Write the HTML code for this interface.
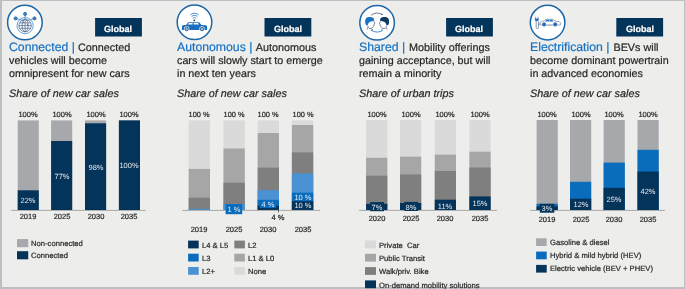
<!DOCTYPE html>
<html><head><meta charset="utf-8"><style>
html,body{margin:0;padding:0;}
body{width:685px;height:289px;background:#bcbfc1;position:relative;overflow:hidden;font-family:"Liberation Sans",sans-serif;}
#bg{position:absolute;left:2px;top:1px;width:682px;height:286px;background:#ededeb;}
.t{position:absolute;white-space:nowrap;will-change:transform;text-rendering:geometricPrecision;-webkit-text-stroke:0.2px currentColor;}
</style></head><body>
<div id="bg"></div>
<svg style="position:absolute;left:0;top:0" width="685" height="289" viewBox="0 0 685 289"><rect x="530.20" y="209.90" width="134.70" height="1" fill="#a8a8a8"/><rect x="359.10" y="209.90" width="137.80" height="1" fill="#a8a8a8"/><rect x="182.10" y="209.90" width="138.00" height="1" fill="#a8a8a8"/><rect x="11.20" y="209.90" width="134.60" height="1" fill="#a8a8a8"/><rect x="95.10" y="18.00" width="46.80" height="18.50" fill="#05345a"/><rect x="17.70" y="120.40" width="21.10" height="89.60" fill="#a6a8ab"/><rect x="17.70" y="190.29" width="21.10" height="19.71" fill="#05345a"/><rect x="51.10" y="120.40" width="21.10" height="89.60" fill="#a6a8ab"/><rect x="51.10" y="141.01" width="21.10" height="68.99" fill="#05345a"/><rect x="85.00" y="120.40" width="21.10" height="89.60" fill="#a6a8ab"/><rect x="85.00" y="123.30" width="21.10" height="86.70" fill="#05345a"/><rect x="118.90" y="120.40" width="21.10" height="89.60" fill="#a6a8ab"/><rect x="118.90" y="120.40" width="21.10" height="89.60" fill="#05345a"/><rect x="17.00" y="239.10" width="11.20" height="8.10" fill="#a6a8ab"/><rect x="17.00" y="251.20" width="11.20" height="8.10" fill="#05345a"/><rect x="264.50" y="18.00" width="46.80" height="18.50" fill="#05345a"/><rect x="188.70" y="120.40" width="21.30" height="89.50" fill="#dadada"/><rect x="188.70" y="168.90" width="21.30" height="41.00" fill="#a6a6a6"/><rect x="188.70" y="197.70" width="21.30" height="12.20" fill="#7f7f7f"/><rect x="188.70" y="208.80" width="21.30" height="1.10" fill="#4a92d2"/><rect x="223.50" y="120.40" width="21.30" height="89.50" fill="#dadada"/><rect x="223.50" y="148.50" width="21.30" height="61.40" fill="#a6a6a6"/><rect x="223.50" y="182.70" width="21.30" height="27.20" fill="#7f7f7f"/><rect x="223.50" y="204.10" width="21.30" height="5.80" fill="#4a92d2"/><rect x="257.70" y="120.40" width="21.30" height="89.50" fill="#dadada"/><rect x="257.70" y="133.00" width="21.30" height="76.90" fill="#a6a6a6"/><rect x="257.70" y="167.60" width="21.30" height="42.30" fill="#7f7f7f"/><rect x="257.70" y="190.10" width="21.30" height="19.80" fill="#4a92d2"/><rect x="257.70" y="199.90" width="21.30" height="10.00" fill="#0a6cbc"/><rect x="257.70" y="205.70" width="21.30" height="4.20" fill="#05345a"/><rect x="291.90" y="120.40" width="21.30" height="89.50" fill="#dadada"/><rect x="291.90" y="125.00" width="21.30" height="84.90" fill="#a6a6a6"/><rect x="291.90" y="152.40" width="21.30" height="57.50" fill="#7f7f7f"/><rect x="291.90" y="173.40" width="21.30" height="36.50" fill="#4a92d2"/><rect x="291.90" y="192.70" width="21.30" height="17.20" fill="#0a6cbc"/><rect x="291.90" y="201.20" width="21.30" height="8.70" fill="#05345a"/><rect x="225.60" y="204.10" width="16.60" height="10.10" fill="#0a6cbc"/><rect x="259.80" y="199.90" width="16.30" height="8.10" fill="#0a6cbc"/><rect x="278.20" y="209.90" width="0.80" height="2.60" fill="#555"/><rect x="188.10" y="240.60" width="10.60" height="7.80" fill="#05345a"/><rect x="188.10" y="253.70" width="10.60" height="7.80" fill="#0a6cbc"/><rect x="188.10" y="267.00" width="10.60" height="7.80" fill="#4a92d2"/><rect x="234.30" y="240.60" width="10.60" height="7.80" fill="#7f7f7f"/><rect x="234.30" y="253.70" width="10.60" height="7.80" fill="#a6a6a6"/><rect x="234.30" y="267.00" width="10.60" height="7.80" fill="#dadada"/><rect x="446.10" y="18.00" width="46.80" height="18.50" fill="#05345a"/><rect x="366.10" y="120.00" width="21.20" height="90.00" fill="#dadada"/><rect x="366.10" y="157.80" width="21.20" height="52.20" fill="#a6a6a6"/><rect x="366.10" y="175.70" width="21.20" height="34.30" fill="#7f7f7f"/><rect x="366.10" y="203.80" width="21.20" height="6.20" fill="#05345a"/><rect x="400.00" y="120.00" width="21.20" height="90.00" fill="#dadada"/><rect x="400.00" y="156.60" width="21.20" height="53.40" fill="#a6a6a6"/><rect x="400.00" y="174.50" width="21.20" height="35.50" fill="#7f7f7f"/><rect x="400.00" y="203.00" width="21.20" height="7.00" fill="#05345a"/><rect x="434.80" y="120.00" width="21.20" height="90.00" fill="#dadada"/><rect x="434.80" y="154.60" width="21.20" height="55.40" fill="#a6a6a6"/><rect x="434.80" y="171.00" width="21.20" height="39.00" fill="#7f7f7f"/><rect x="434.80" y="199.70" width="21.20" height="10.30" fill="#05345a"/><rect x="469.40" y="120.00" width="21.20" height="90.00" fill="#dadada"/><rect x="469.40" y="151.70" width="21.20" height="58.30" fill="#a6a6a6"/><rect x="469.40" y="167.50" width="21.20" height="42.50" fill="#7f7f7f"/><rect x="469.40" y="196.40" width="21.20" height="13.60" fill="#05345a"/><rect x="370.20" y="202.10" width="13.80" height="9.10" fill="#05345a"/><rect x="404.30" y="201.90" width="13.80" height="9.10" fill="#05345a"/><rect x="365.00" y="240.50" width="11.00" height="7.80" fill="#dadada"/><rect x="365.00" y="253.80" width="11.00" height="7.80" fill="#a6a6a6"/><rect x="365.00" y="267.10" width="11.00" height="7.80" fill="#7f7f7f"/><rect x="365.00" y="280.40" width="11.00" height="7.80" fill="#05345a"/><rect x="616.30" y="18.00" width="46.80" height="18.50" fill="#05345a"/><rect x="536.60" y="120.00" width="21.20" height="90.00" fill="#a6a8ab"/><rect x="536.60" y="203.80" width="21.20" height="6.20" fill="#0a6cbc"/><rect x="536.60" y="206.40" width="21.20" height="3.60" fill="#05345a"/><rect x="570.00" y="120.00" width="21.20" height="90.00" fill="#a6a8ab"/><rect x="570.00" y="181.80" width="21.20" height="28.20" fill="#0a6cbc"/><rect x="570.00" y="198.70" width="21.20" height="11.30" fill="#05345a"/><rect x="603.60" y="120.00" width="21.20" height="90.00" fill="#a6a8ab"/><rect x="603.60" y="162.60" width="21.20" height="47.40" fill="#0a6cbc"/><rect x="603.60" y="187.80" width="21.20" height="22.20" fill="#05345a"/><rect x="637.50" y="120.00" width="21.20" height="90.00" fill="#a6a8ab"/><rect x="637.50" y="149.80" width="21.20" height="60.20" fill="#0a6cbc"/><rect x="637.50" y="171.60" width="21.20" height="38.40" fill="#05345a"/><rect x="539.80" y="203.80" width="14.50" height="8.90" fill="#05345a"/><rect x="536.10" y="238.30" width="10.60" height="7.70" fill="#a6a8ab"/><rect x="536.10" y="251.60" width="10.60" height="7.70" fill="#0a6cbc"/><rect x="536.10" y="264.90" width="10.60" height="7.70" fill="#05345a"/></svg>
<div class="t" style="left:8.80px;top:41px;font-size:12.25px;line-height:12.25px;color:#1672c2">Connected |<span style="font-size:10.8px;color:#262626;margin-left:0.2px"> Connected</span></div><div class="t" style="left:8.80px;top:56.00px;font-size:10.75px;line-height:10.75px;color:#262626;">vehicles will become</div><div class="t" style="left:8.80px;top:69.00px;font-size:10.75px;line-height:10.75px;color:#262626;">omnipresent for new cars</div><div class="t" style="left:8.80px;top:89.00px;font-size:10.8px;line-height:10.8px;color:#262626;font-style:italic">Share of new car sales</div><div class="t" style="left:88.45px;top:25.00px;width:60px;text-align:center;font-size:9px;line-height:9px;color:#ffffff;font-weight:bold">Global</div><div class="t" style="left:-1.75px;top:111.00px;width:60px;text-align:center;font-size:7.5px;line-height:7.5px;color:#262626;">100%</div><div class="t" style="left:-1.75px;top:197.00px;width:60px;text-align:center;font-size:7.5px;line-height:7.5px;color:#e6eaef;-webkit-text-stroke:0;">22%</div><div class="t" style="left:-1.75px;top:213.00px;width:60px;text-align:center;font-size:7.5px;line-height:7.5px;color:#262626;">2019</div><div class="t" style="left:31.65px;top:111.00px;width:60px;text-align:center;font-size:7.5px;line-height:7.5px;color:#262626;">100%</div><div class="t" style="left:31.65px;top:173.00px;width:60px;text-align:center;font-size:7.5px;line-height:7.5px;color:#e6eaef;-webkit-text-stroke:0;">77%</div><div class="t" style="left:31.65px;top:213.00px;width:60px;text-align:center;font-size:7.5px;line-height:7.5px;color:#262626;">2025</div><div class="t" style="left:65.55px;top:111.00px;width:60px;text-align:center;font-size:7.5px;line-height:7.5px;color:#262626;">100%</div><div class="t" style="left:65.55px;top:164.00px;width:60px;text-align:center;font-size:7.5px;line-height:7.5px;color:#e6eaef;-webkit-text-stroke:0;">98%</div><div class="t" style="left:65.55px;top:213.00px;width:60px;text-align:center;font-size:7.5px;line-height:7.5px;color:#262626;">2030</div><div class="t" style="left:99.45px;top:111.00px;width:60px;text-align:center;font-size:7.5px;line-height:7.5px;color:#262626;">100%</div><div class="t" style="left:99.45px;top:162.00px;width:60px;text-align:center;font-size:7.5px;line-height:7.5px;color:#e6eaef;-webkit-text-stroke:0;">100%</div><div class="t" style="left:99.45px;top:213.00px;width:60px;text-align:center;font-size:7.5px;line-height:7.5px;color:#262626;">2035</div><div class="t" style="left:30.60px;top:240.00px;font-size:7.65px;line-height:7.65px;color:#262626;">Non-connected</div><div class="t" style="left:30.60px;top:252.00px;font-size:7.65px;line-height:7.65px;color:#262626;">Connected</div><div class="t" style="left:177.30px;top:41px;font-size:12.25px;line-height:12.25px;color:#1672c2">Autonomous |<span style="font-size:10.8px;color:#262626;margin-left:1.0px"> Autonomous</span></div><div class="t" style="left:177.30px;top:56.00px;font-size:10.75px;line-height:10.75px;color:#262626;">cars will slowly start to emerge</div><div class="t" style="left:177.30px;top:69.00px;font-size:10.75px;line-height:10.75px;color:#262626;">in next ten years</div><div class="t" style="left:177.30px;top:89.00px;font-size:10.8px;line-height:10.8px;color:#262626;font-style:italic">Share of new car sales</div><div class="t" style="left:257.85px;top:25.00px;width:60px;text-align:center;font-size:9px;line-height:9px;color:#ffffff;font-weight:bold">Global</div><div class="t" style="left:169.35px;top:111.00px;width:60px;text-align:center;font-size:7.4px;line-height:7.4px;color:#262626;">100 %</div><div class="t" style="left:169.35px;top:226.00px;width:60px;text-align:center;font-size:7.5px;line-height:7.5px;color:#262626;">2019</div><div class="t" style="left:204.15px;top:111.00px;width:60px;text-align:center;font-size:7.4px;line-height:7.4px;color:#262626;">100 %</div><div class="t" style="left:204.15px;top:226.00px;width:60px;text-align:center;font-size:7.5px;line-height:7.5px;color:#262626;">2025</div><div class="t" style="left:238.35px;top:111.00px;width:60px;text-align:center;font-size:7.4px;line-height:7.4px;color:#262626;">100 %</div><div class="t" style="left:238.35px;top:226.00px;width:60px;text-align:center;font-size:7.5px;line-height:7.5px;color:#262626;">2030</div><div class="t" style="left:272.55px;top:111.00px;width:60px;text-align:center;font-size:7.4px;line-height:7.4px;color:#262626;">100 %</div><div class="t" style="left:272.55px;top:226.00px;width:60px;text-align:center;font-size:7.5px;line-height:7.5px;color:#262626;">2035</div><div class="t" style="left:203.60px;top:206.00px;width:60px;text-align:center;font-size:7.5px;line-height:7.5px;color:#e6eaef;-webkit-text-stroke:0;">1 %</div><div class="t" style="left:238.00px;top:201.00px;width:60px;text-align:center;font-size:7.5px;line-height:7.5px;color:#e6eaef;-webkit-text-stroke:0;">4 %</div><div class="t" style="left:248.30px;top:214.00px;width:60px;text-align:center;font-size:7.5px;line-height:7.5px;color:#262626;">4 %</div><div class="t" style="left:272.55px;top:194.00px;width:60px;text-align:center;font-size:7.5px;line-height:7.5px;color:#e6eaef;-webkit-text-stroke:0;">10 %</div><div class="t" style="left:272.55px;top:202.00px;width:60px;text-align:center;font-size:7.5px;line-height:7.5px;color:#e6eaef;-webkit-text-stroke:0;">10 %</div><div class="t" style="left:201.90px;top:242.00px;font-size:7.65px;line-height:7.65px;color:#262626;">L4 &amp; L5</div><div class="t" style="left:201.90px;top:255.00px;font-size:7.65px;line-height:7.65px;color:#262626;">L3</div><div class="t" style="left:201.90px;top:268.00px;font-size:7.65px;line-height:7.65px;color:#262626;">L2+</div><div class="t" style="left:248.10px;top:242.00px;font-size:7.65px;line-height:7.65px;color:#262626;">L2</div><div class="t" style="left:248.10px;top:255.00px;font-size:7.65px;line-height:7.65px;color:#262626;">L1 &amp; L0</div><div class="t" style="left:248.10px;top:268.00px;font-size:7.65px;line-height:7.65px;color:#262626;">None</div><div class="t" style="left:359.40px;top:41px;font-size:12.25px;line-height:12.25px;color:#1672c2">Shared |<span style="font-size:10.8px;color:#262626;margin-left:1.0px"> Mobility offerings</span></div><div class="t" style="left:359.40px;top:56.00px;font-size:10.75px;line-height:10.75px;color:#262626;">gaining acceptance, but will</div><div class="t" style="left:359.40px;top:69.00px;font-size:10.75px;line-height:10.75px;color:#262626;">remain a minority</div><div class="t" style="left:359.40px;top:89.00px;font-size:10.8px;line-height:10.8px;color:#262626;font-style:italic">Share of urban trips</div><div class="t" style="left:439.45px;top:25.00px;width:60px;text-align:center;font-size:9px;line-height:9px;color:#ffffff;font-weight:bold">Global</div><div class="t" style="left:346.70px;top:111.00px;width:60px;text-align:center;font-size:7.5px;line-height:7.5px;color:#262626;">100%</div><div class="t" style="left:346.70px;top:215.00px;width:60px;text-align:center;font-size:7.5px;line-height:7.5px;color:#262626;">2020</div><div class="t" style="left:380.60px;top:111.00px;width:60px;text-align:center;font-size:7.5px;line-height:7.5px;color:#262626;">100%</div><div class="t" style="left:380.60px;top:215.00px;width:60px;text-align:center;font-size:7.5px;line-height:7.5px;color:#262626;">2025</div><div class="t" style="left:415.40px;top:111.00px;width:60px;text-align:center;font-size:7.5px;line-height:7.5px;color:#262626;">100%</div><div class="t" style="left:415.40px;top:215.00px;width:60px;text-align:center;font-size:7.5px;line-height:7.5px;color:#262626;">2030</div><div class="t" style="left:450.00px;top:111.00px;width:60px;text-align:center;font-size:7.5px;line-height:7.5px;color:#262626;">100%</div><div class="t" style="left:450.00px;top:215.00px;width:60px;text-align:center;font-size:7.5px;line-height:7.5px;color:#262626;">2035</div><div class="t" style="left:347.10px;top:204.00px;width:60px;text-align:center;font-size:7.5px;line-height:7.5px;color:#e6eaef;-webkit-text-stroke:0;">7%</div><div class="t" style="left:381.20px;top:204.00px;width:60px;text-align:center;font-size:7.5px;line-height:7.5px;color:#e6eaef;-webkit-text-stroke:0;">8%</div><div class="t" style="left:415.40px;top:203.00px;width:60px;text-align:center;font-size:7.5px;line-height:7.5px;color:#e6eaef;-webkit-text-stroke:0;">11%</div><div class="t" style="left:450.00px;top:200.00px;width:60px;text-align:center;font-size:7.5px;line-height:7.5px;color:#e6eaef;-webkit-text-stroke:0;">15%</div><div class="t" style="left:379.20px;top:242.00px;font-size:7.65px;line-height:7.65px;color:#262626;">Private&nbsp; Car</div><div class="t" style="left:379.20px;top:255.00px;font-size:7.65px;line-height:7.65px;color:#262626;">Public Transit</div><div class="t" style="left:379.20px;top:268.00px;font-size:7.65px;line-height:7.65px;color:#262626;">Walk/priv. Bike</div><div class="t" style="left:379.20px;top:282.00px;font-size:7.65px;line-height:7.65px;color:#262626;">On-demand mobility solutions</div><div class="t" style="left:529.90px;top:41px;font-size:12.25px;line-height:12.25px;color:#1672c2">Electrification |<span style="font-size:10.8px;color:#262626;margin-left:1.0px"> BEVs will</span></div><div class="t" style="left:529.90px;top:56.00px;font-size:10.75px;line-height:10.75px;color:#262626;">become dominant powertrain</div><div class="t" style="left:529.90px;top:69.00px;font-size:10.75px;line-height:10.75px;color:#262626;">in advanced economies</div><div class="t" style="left:529.90px;top:89.00px;font-size:10.8px;line-height:10.8px;color:#262626;font-style:italic">Share of new car sales</div><div class="t" style="left:609.65px;top:25.00px;width:60px;text-align:center;font-size:9px;line-height:9px;color:#ffffff;font-weight:bold">Global</div><div class="t" style="left:517.20px;top:111.00px;width:60px;text-align:center;font-size:7.5px;line-height:7.5px;color:#262626;">100%</div><div class="t" style="left:517.20px;top:216.00px;width:60px;text-align:center;font-size:7.5px;line-height:7.5px;color:#262626;">2019</div><div class="t" style="left:550.60px;top:111.00px;width:60px;text-align:center;font-size:7.5px;line-height:7.5px;color:#262626;">100%</div><div class="t" style="left:550.60px;top:216.00px;width:60px;text-align:center;font-size:7.5px;line-height:7.5px;color:#262626;">2025</div><div class="t" style="left:550.60px;top:201.00px;width:60px;text-align:center;font-size:7.5px;line-height:7.5px;color:#e6eaef;-webkit-text-stroke:0;">12%</div><div class="t" style="left:584.20px;top:111.00px;width:60px;text-align:center;font-size:7.5px;line-height:7.5px;color:#262626;">100%</div><div class="t" style="left:584.20px;top:216.00px;width:60px;text-align:center;font-size:7.5px;line-height:7.5px;color:#262626;">2030</div><div class="t" style="left:584.20px;top:196.00px;width:60px;text-align:center;font-size:7.5px;line-height:7.5px;color:#e6eaef;-webkit-text-stroke:0;">25%</div><div class="t" style="left:618.10px;top:111.00px;width:60px;text-align:center;font-size:7.5px;line-height:7.5px;color:#262626;">100%</div><div class="t" style="left:618.10px;top:216.00px;width:60px;text-align:center;font-size:7.5px;line-height:7.5px;color:#262626;">2035</div><div class="t" style="left:618.10px;top:188.00px;width:60px;text-align:center;font-size:7.5px;line-height:7.5px;color:#e6eaef;-webkit-text-stroke:0;">42%</div><div class="t" style="left:517.10px;top:205.00px;width:60px;text-align:center;font-size:7.5px;line-height:7.5px;color:#e6eaef;-webkit-text-stroke:0;">3%</div><div class="t" style="left:549.80px;top:239.00px;font-size:7.65px;line-height:7.65px;color:#262626;">Gasoline &amp; diesel</div><div class="t" style="left:549.80px;top:252.00px;font-size:7.65px;line-height:7.65px;color:#262626;">Hybrid &amp; mild hybrid (HEV)</div><div class="t" style="left:549.80px;top:265.00px;font-size:7.65px;line-height:7.65px;color:#262626;">Electric vehicle (BEV + PHEV)</div>
<svg style="position:absolute;left:0;top:0" width="685" height="289" viewBox="0 0 685 289">
<g fill="#fff" stroke="#1b66a8" stroke-width="1.5">
<circle cx="24.9" cy="22.5" r="17.3"/>
<circle cx="194.5" cy="22.3" r="17.3"/>
<circle cx="377.1" cy="22.7" r="17.3"/>
<circle cx="547.6" cy="22.6" r="17.3"/>
</g>
<!-- icon 1: globe network -->
<g transform="translate(24.9,22.5)">
<g stroke="#3d6a98" stroke-width="0.7" fill="none">
<line x1="-9.3" y1="-4.1" x2="-1.2" y2="-1.9"/>
<line x1="9.6" y1="-4.1" x2="2.0" y2="-1.9"/>
<line x1="0.2" y1="-8.6" x2="0.2" y2="-3.4"/>
</g>
<circle cx="0.2" cy="3.1" r="8.1" fill="none" stroke="#5aa0dc" stroke-width="1.0"/>
<g fill="none" stroke="#43628a" stroke-width="0.7">
<circle cx="0.2" cy="3.1" r="6.2"/>
<ellipse cx="0.2" cy="3.1" rx="3.0" ry="6.2"/>
<line x1="0.2" y1="-3.1" x2="0.2" y2="9.3"/>
<line x1="-6.0" y1="3.1" x2="6.4" y2="3.1"/>
<line x1="-5.3" y1="0.4" x2="5.7" y2="0.4"/>
<line x1="-5.3" y1="5.8" x2="5.7" y2="5.8"/>
</g>
<circle cx="-1.6" cy="-0.2" r="0.7" fill="#3a85cc"/>
<circle cx="2.6" cy="2.2" r="0.7" fill="#3a85cc"/>
<g fill="#3a85cc" stroke="#2a5f96" stroke-width="0.7">
<circle cx="0.2" cy="-8.6" r="1.6"/>
<circle cx="-9.3" cy="-4.1" r="1.6"/>
<circle cx="9.6" cy="-4.1" r="1.6"/>
</g>
</g>
<!-- icon 2: connected car -->
<g transform="translate(194.5,22.3)">
<g fill="none" stroke="#2f7fcb" stroke-width="0.9" stroke-linecap="round">
<path d="M-1.3,-4.3 A1.8,1.8 0 0 1 1.3,-4.3"/>
<path d="M-2.6,-6.0 A3.6,3.6 0 0 1 2.6,-6.0"/>
<path d="M-3.9,-7.6 A5.5,5.5 0 0 1 3.9,-7.6"/>
</g>
<circle cx="-0.2" cy="-1.9" r="0.9" fill="#1d3d5e"/>
<path fill="#1a6dbd" d="M-12.6,4.2 C-12.6,3.2 -11.6,2.8 -10.5,2.7 L-8.4,2.6 L-6.3,-0.1 L4.6,-0.1 L7.0,2.6 L11.3,3.0 C12.3,3.2 12.6,4.0 12.6,5.0 L12.6,7.6 L-12.6,7.6 Z"/>
<g fill="#fff">
<path d="M-5.7,0.7 L-2.0,0.7 L-2.0,2.3 L-6.8,2.3 Z"/>
<path d="M-0.9,0.7 L3.4,0.7 L4.6,2.3 L-0.9,2.3 Z"/>
<circle cx="-7.9" cy="6.7" r="2.7"/>
<circle cx="7.5" cy="6.7" r="2.7"/>
</g>
<g fill="#8fb6dc" stroke="#1a4f88" stroke-width="0.8">
<circle cx="-7.9" cy="6.7" r="1.8"/>
<circle cx="7.5" cy="6.7" r="1.8"/>
</g>
</g>
<!-- icon 3: shared heads -->
<g transform="translate(377.1,22.7)">
<path d="M-6,-7.4 Q-0.8,-11.6 5.3,-8.1" fill="none" stroke="#41597a" stroke-width="0.8"/>
<path d="M5.9,-7.6 L4.0,-8.0 L5.0,-9.3 Z" fill="#41597a"/>
<path d="M-6,7.4 Q0,11.4 5.8,7.4" fill="none" stroke="#2d83cf" stroke-width="0.9"/>
<path d="M-6.6,7.0 L-4.6,7.0 L-5.6,8.6 Z" fill="#2d83cf"/>
<g><path fill="none" stroke="#46617f" stroke-width="0.75" d="M-3.3,-2.2 C-3.3,-1.5 -3.2,-1.0 -3.1,-0.7 L-2.2,0.6 L-2.9,1.3 L-3.0,2.3 C-3.3,3.3 -3.7,4.0 -4.3,4.6 C-5.0,5.3 -5.9,5.8 -6.9,5.9 C-7.8,5.9 -8.6,5.4 -9.0,4.6 L-9.3,3.0 M-9.5,5.0 L-9.9,6.8 M-5.4,6.2 L-4.2,7.0"/><path fill="#1a72c4" d="M-11.9,0.1 C-12.3,-2.6 -11.6,-4.7 -9.5,-5.5 C-7.4,-6.1 -4.7,-5.7 -3.5,-4.4 C-2.9,-3.7 -2.9,-2.8 -3.2,-2.0 C-4.6,-1.6 -6.2,-1.2 -7.4,-0.6 C-8.4,0.0 -9.0,1.0 -9.4,2.6 L-11.0,2.6 C-11.4,1.8 -11.7,0.9 -11.9,0.1 Z"/></g>
<g transform="scale(-1,1)"><path fill="none" stroke="#46617f" stroke-width="0.75" d="M-3.3,-2.2 C-3.3,-1.5 -3.2,-1.0 -3.1,-0.7 L-2.2,0.6 L-2.9,1.3 L-3.0,2.3 C-3.3,3.3 -3.7,4.0 -4.3,4.6 C-5.0,5.3 -5.9,5.8 -6.9,5.9 C-7.8,5.9 -8.6,5.4 -9.0,4.6 L-9.3,3.0 M-9.5,5.0 L-9.9,6.8 M-5.4,6.2 L-4.2,7.0"/><path fill="#0e3a63" d="M-11.9,0.1 C-12.3,-2.6 -11.6,-4.7 -9.5,-5.5 C-7.4,-6.1 -4.7,-5.7 -3.5,-4.4 C-2.9,-3.7 -2.9,-2.8 -3.2,-2.0 C-4.6,-1.6 -6.2,-1.2 -7.4,-0.6 C-8.4,0.0 -9.0,1.0 -9.4,2.6 L-11.0,2.6 C-11.4,1.8 -11.7,0.9 -11.9,0.1 Z"/></g>
</g>
<!-- icon 4: EV -->
<g transform="translate(547.6,22.6)">
<g stroke="#4a6080" stroke-width="0.6">
<line x1="-12.1" y1="-5.9" x2="-12.1" y2="-4.0"/>
<line x1="-9.5" y1="-5.9" x2="-9.5" y2="-4.0"/>
</g>
<path fill="#1f6fc0" d="M-12.8,-4.0 L-8.8,-4.0 L-8.8,-3.0 C-8.8,-1.8 -9.7,-1.4 -10.8,-1.4 C-11.9,-1.4 -12.8,-1.8 -12.8,-3.0 Z"/>
<path fill="none" stroke="#56708f" stroke-width="0.7" d="M-11.4,-1.4 L-11.4,5.2 C-11.4,6.3 -9.2,6.3 -9.2,5.2 L-9.2,-1.4 M-9.2,3.0 C-8.4,2.0 -7.8,1.0 -7.2,0.4"/>
<path fill="#fff" stroke="#6a87a8" stroke-width="0.7" d="M-7.3,2.4 L-7.3,-0.2 C-7.3,-0.8 -6.6,-1.0 -5.8,-1.2 L-3.5,-1.8 L-1.6,-3.4 L5.1,-3.4 L7.6,-1.6 L11.8,-0.9 C12.7,-0.6 13.1,0.0 13.1,0.8 L12.7,2.4 L-7.3,2.4 Z"/>
<path fill="#1f6fc0" d="M-1.0,-2.9 L4.6,-2.9 L6.0,-1.0 L-2.6,-1.0 Z"/>
<line x1="1.8" y1="-3.0" x2="1.8" y2="-0.9" stroke="#fff" stroke-width="0.6"/>
<line x1="-1.2" y1="2.6" x2="5.0" y2="2.6" stroke="#9aa8b8" stroke-width="0.6"/>
<circle cx="-3.5" cy="1.8" r="2.5" fill="#fff"/>
<circle cx="7.6" cy="1.8" r="2.5" fill="#fff"/>
<circle cx="-3.5" cy="1.8" r="1.9" fill="#1f6fc0" stroke="#5a7394" stroke-width="0.4"/>
<circle cx="7.6" cy="1.8" r="1.9" fill="#1f6fc0" stroke="#5a7394" stroke-width="0.4"/>
</g>
</svg>

</body></html>
